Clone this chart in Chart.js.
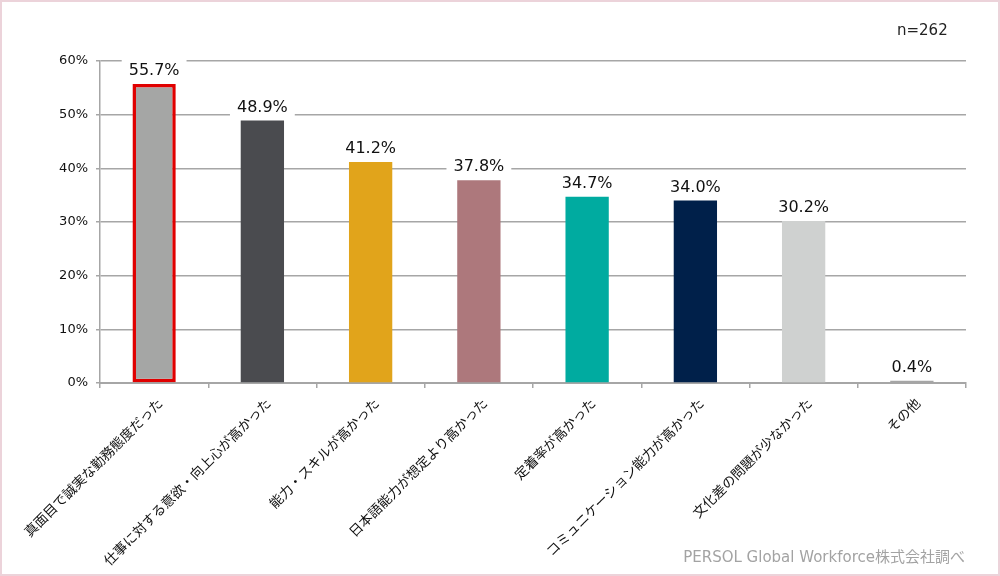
<!DOCTYPE html>
<html>
<head>
<meta charset="utf-8">
<script src="https://cdn.jsdelivr.net/npm/chart.js@4/dist/chart.umd.min.js"></script>
<style>
  html, body { margin: 0; padding: 0; background: #fff; }
  #wrap { position: relative; width: 1000px; height: 576px; overflow: hidden; }
  #chart { position: absolute; left: 0; top: 0; }
  #frame { position: absolute; left: 0; top: 0; width: 1000px; height: 576px; box-sizing: border-box;
           border: 2px solid #ecd3da; pointer-events: none; }
  .note { position: absolute; font-family: "DejaVu Sans", "Noto Sans CJK JP", sans-serif; white-space: nowrap; }
  #n { left: 897px; top: 21px; font-size: 15px; color: #222; }
  #src { right: 35px; top: 545px; font-size: 15px; color: #a3a3a3; }
</style>
</head>
<body>
<div id="wrap">
  <canvas id="chart" width="1000" height="576"></canvas>
  <div id="n" class="note">n=262</div>
  <div id="src" class="note">PERSOL Global Workforce株式会社調べ</div>
  <div id="frame"></div>
</div>
<script>
// 外国人材を採用してよかった点
const categories = [
  '真面目で誠実な勤務態度だった',
  '仕事に対する意欲・向上心が高かった',
  '能力・スキルが高かった',
  '日本語能力が想定より高かった',
  '定着率が高かった',
  'コミュニケーション能力が高かった',
  '文化差の問題が少なかった',
  'その他'
];
const values = [55.7, 48.9, 41.2, 37.8, 34.7, 34.0, 30.2, 0.4];
const barColors = ['#a5a6a5', '#4a4b4f', '#e1a41b', '#ad787c', '#00aba0', '#00204a', '#cfd1d0', '#a5a5a5'];
const yTicks = [0, 10, 20, 30, 40, 50, 60];

const FONT = '"DejaVu Sans", "Noto Sans CJK JP", sans-serif';
const GRID = '#a6a6a6';

// 棒の上に数値ラベル（白背景つき）
const valueLabels = {
  id: 'valueLabels',
  afterDatasetsDraw(chart) {
    const ctx = chart.ctx;
    const meta = chart.getDatasetMeta(0);
    ctx.save();
    ctx.font = '16px ' + FONT;
    ctx.textAlign = 'center';
    ctx.textBaseline = 'alphabetic';
    meta.data.forEach((bar, i) => {
      const txt = values[i].toFixed(1) + '%';
      const y = bar.y - 9;
      const w = ctx.measureText(txt).width;
      ctx.fillStyle = '#fff';
      ctx.fillRect(bar.x - w / 2 - 7, y - 17, w + 14, 22);
      ctx.fillStyle = '#111';
      ctx.fillText(txt, bar.x, y);
    });
    ctx.restore();
  }
};

new Chart(document.getElementById('chart'), {
  type: 'bar',
  data: {
    labels: categories,
    datasets: [{
      data: values,
      backgroundColor: barColors,
      borderColor: ['#e00000', 'transparent', 'transparent', 'transparent', 'transparent', 'transparent', 'transparent', 'transparent'],
      borderWidth: [3.5, 0, 0, 0, 0, 0, 0, 0],
      borderSkipped: false,
      barPercentage: 0.4,
      categoryPercentage: 1.0
    }]
  },
  options: {
    responsive: false,
    animation: false,
    layout: { padding: { top: 61, right: 34, left: 0, bottom: 0 } },
    plugins: { legend: { display: false }, tooltip: { enabled: false } },
    scales: {
      x: {
        afterFit(scale) { scale.height = 193; },
        grid: { display: true, drawOnChartArea: false, drawTicks: true, tickLength: 5, color: GRID, lineWidth: 1.5 },
        border: { display: true, color: GRID, width: 2 },
        ticks: {
          autoSkip: false, maxRotation: 45, minRotation: 45, padding: 8, labelOffset: 7,
          color: '#111', font: { family: FONT, size: 13.5 }
        }
      },
      y: {
        min: 0, max: 60,
        afterFit(scale) { scale.width = 100; },
        afterBuildTicks(scale) { scale.ticks = yTicks.map(v => ({ value: v })); },
        grid: { color: GRID, lineWidth: 1.5, drawTicks: true, tickLength: 4 },
        border: { display: true, color: GRID, width: 1.5 },
        ticks: {
          padding: 8, color: '#111', font: { family: FONT, size: 13 },
          callback: v => v + '%'
        }
      }
    }
  },
  plugins: [valueLabels]
});
</script>
</body>
</html>
